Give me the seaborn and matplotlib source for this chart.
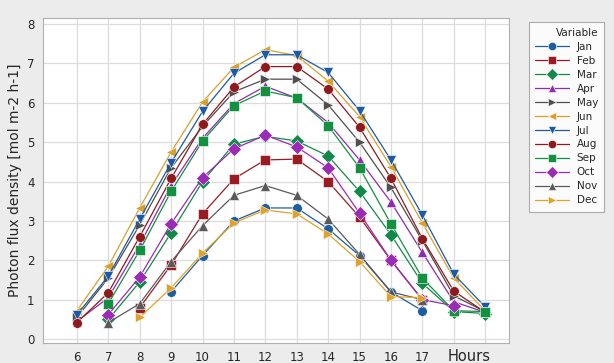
import numpy as np
import pandas as pd
import matplotlib
matplotlib.use("Agg")
import matplotlib.pyplot as plt
import seaborn as sns

hours = [6, 7, 8, 9, 10, 11, 12, 13, 14, 15, 16, 17, 18, 19]
months = ["Jan", "Feb", "Mar", "Apr", "May", "Jun", "Jul", "Aug", "Sep", "Oct", "Nov", "Dec"]
N = None
jan = [N, N, N, 1.2, 2.12, 3.0, 3.33, 3.33, 2.8, 2.12, 1.2, 0.72, N, N]
feb = [N, N, 0.8, 1.88, 3.18, 4.07, 4.55, 4.57, 4.0, 3.1, 2.0, 1.0, N, N]
mar = [N, 0.5, 1.45, 2.7, 4.0, 4.95, 5.15, 5.03, 4.65, 3.75, 2.65, 1.42, 0.7, 0.65]
apr = [0.45, 1.05, 2.4, 3.9, 5.1, 5.98, 6.42, 6.12, 5.5, 4.55, 3.48, 2.2, 0.95, 0.68]
may = [0.55, 1.55, 2.9, 4.35, 5.4, 6.28, 6.6, 6.6, 5.95, 5.0, 3.85, 2.5, 1.1, 0.7]
jun = [0.72, 1.85, 3.33, 4.75, 6.02, 6.9, 7.35, 7.2, 6.55, 5.65, 4.38, 2.95, 1.55, 0.72]
jul = [0.62, 1.6, 3.05, 4.48, 5.78, 6.75, 7.22, 7.22, 6.77, 5.8, 4.55, 3.15, 1.65, 0.82]
aug = [0.42, 1.18, 2.6, 4.08, 5.45, 6.4, 6.92, 6.92, 6.35, 5.38, 4.08, 2.55, 1.22, 0.68]
sep = [N, 0.9, 2.25, 3.75, 5.03, 5.93, 6.3, 6.13, 5.42, 4.35, 2.93, 1.55, 0.72, 0.7]
oct_ = [N, 0.62, 1.58, 2.93, 4.1, 4.83, 5.18, 4.88, 4.35, 3.2, 2.0, 1.0, 0.85, N]
nov = [N, 0.42, 0.9, 1.97, 2.88, 3.65, 3.9, 3.65, 3.05, 2.15, 1.2, 1.0, N, N]
dec = [N, N, 0.55, 1.3, 2.18, 2.95, 3.28, 3.18, 2.67, 1.97, 1.08, 1.05, N, N]
series = [jan, feb, mar, apr, may, jun, jul, aug, sep, oct_, nov, dec]
xtick_labels = ["6", "7", "8", "9", "10", "11", "12", "13", "14", "15", "16", "17", "", ""]

colors = ["#1f5e9e", "#991c24", "#14884a", "#8e2bb0", "#4f4f4f", "#d9a12c",
          "#1d5aa6", "#8e1a1e", "#159040", "#9a2bb5", "#5a5a5a", "#e0a22a"]
markers = ["o", "s", "D", "^", ">", "<", "v", "o", "s", "D", "^", ">"]

rows = []
for m, vals in zip(months, series):
    for h, v in zip(hours, vals):
        if v is not None:
            rows.append({"Hour": h, "Value": v, "Variable": m})
df = pd.DataFrame(rows)

sns.set_style("whitegrid")
fig = plt.figure(figsize=(6.14, 3.63), dpi=100)
fig.patch.set_facecolor("#ececec")
ax = fig.add_axes([0.070, 0.055, 0.759, 0.895])
ax.set_facecolor("white")

sns.lineplot(data=df, x="Hour", y="Value", hue="Variable", style="Variable",
             hue_order=months, style_order=months,
             palette=dict(zip(months, colors)),
             markers=dict(zip(months, markers)), dashes=False,
             markersize=7, linewidth=0.9, markeredgewidth=0.4,
             ax=ax, legend="full")

handles, labels = ax.get_legend_handles_labels()
if ax.get_legend() is not None:
    ax.get_legend().remove()

ax.set_xlim(4.92, 19.76)
ax.set_ylim(-0.1, 8.15)
ax.set_xticks(hours)
ax.set_xticklabels(xtick_labels, fontsize=8.5)
ax.set_yticks(range(0, 9))
ax.set_yticklabels([str(i) for i in range(0, 9)], fontsize=8.5)
ax.tick_params(axis="both", length=3, color="#888888", pad=3)
ax.grid(True, color="#dcdcdc", linewidth=0.9)
ax.set_xlabel("")
ax.set_ylabel("Photon flux density [mol m-2 h-1]", fontsize=10)
ax.text(18.5, -0.45, "Hours", ha="center", va="center", fontsize=10.5,
        transform=ax.transData, clip_on=False)
for s in ax.spines.values():
    s.set_color("#b0b0b0")
    s.set_linewidth(0.8)

leg = fig.legend(handles, labels, title="Variable", loc="upper left",
                 bbox_to_anchor=(0.853, 0.955), frameon=True, fontsize=7.5,
                 title_fontsize=7.5, handlelength=3.2, labelspacing=0.38,
                 borderpad=0.6, fancybox=False)
leg.get_frame().set_edgecolor("#999999")
leg.get_frame().set_linewidth(0.8)
leg._legend_box.align = "right"
for l in leg.get_lines():
    l.set_markersize(6)

fig.savefig("out.png", dpi=100, facecolor=fig.get_facecolor())
